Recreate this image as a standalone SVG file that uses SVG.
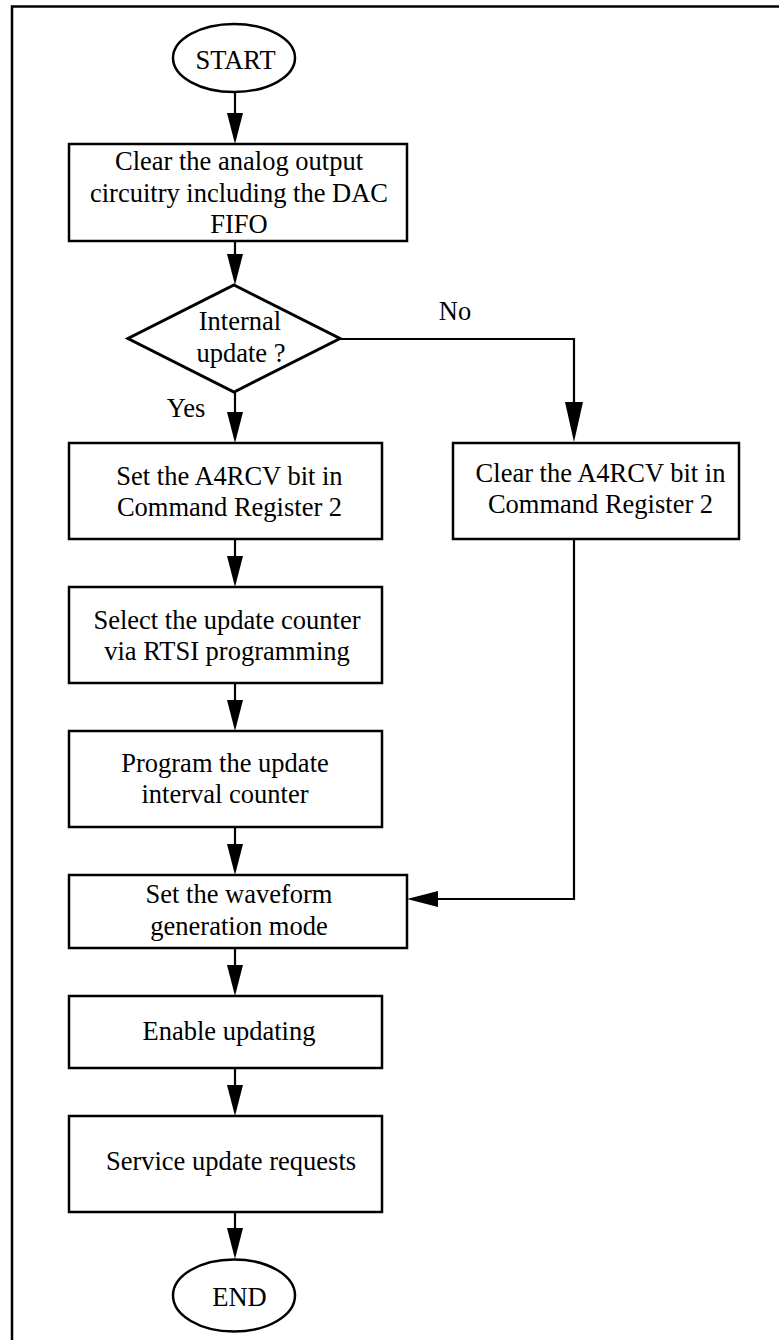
<svg xmlns="http://www.w3.org/2000/svg" width="779" height="1340" viewBox="0 0 779 1340">
<style>
  .shape { fill: #ffffff; stroke: #000000; stroke-width: 2.5; }
  .dia { fill: #ffffff; stroke: #000000; stroke-width: 3; stroke-linejoin: miter; }
  .conn { fill: none; stroke: #000000; stroke-width: 2.2; }
  .frame { fill: none; stroke: #000000; stroke-width: 2.5; }
  text { font-family: "Liberation Serif", "Times New Roman", serif; font-size: 26.5px; fill: #000000; text-anchor: middle; }
</style>
<defs>
  <marker id="arrow" viewBox="0 0 31 16" refX="21" refY="8" markerWidth="31" markerHeight="16" markerUnits="userSpaceOnUse" orient="auto">
    <path d="M0,0 L31,8 L0,16 z" fill="#000000"/>
  </marker>
  <marker id="arrowL" viewBox="0 0 40 18" refX="30" refY="9" markerWidth="40" markerHeight="18" markerUnits="userSpaceOnUse" orient="auto">
    <path d="M0,0 L40,9 L0,18 z" fill="#000000"/>
  </marker>
</defs>
<path class="frame" d="M12,1340 V6.5 H779"/>
<g id="connectors">
  <path class="conn" d="M235,92 V134" marker-end="url(#arrow)"/>
  <path class="conn" d="M235,241 V275" marker-end="url(#arrow)"/>
  <path class="conn" d="M235,392 V433" marker-end="url(#arrow)"/>
  <path class="conn" d="M340,339 H574 V432" marker-end="url(#arrowL)"/>
  <path class="conn" d="M235,539 V577" marker-end="url(#arrow)"/>
  <path class="conn" d="M235,683 V721" marker-end="url(#arrow)"/>
  <path class="conn" d="M235,827 V865" marker-end="url(#arrow)"/>
  <path class="conn" d="M574,539 V899 H417" marker-end="url(#arrow)"/>
  <path class="conn" d="M235,948 V986" marker-end="url(#arrow)"/>
  <path class="conn" d="M235,1068 V1106" marker-end="url(#arrow)"/>
  <path class="conn" d="M235,1212 V1249" marker-end="url(#arrow)"/>
  <text x="455" y="320">No</text>
  <text x="186" y="417">Yes</text>
</g>
<g id="start">
  <ellipse class="shape" cx="234" cy="58" rx="61" ry="34"/>
  <text x="235.5" y="69">START</text>
</g>
<g id="clear-analog">
  <rect class="shape" x="69" y="144" width="338" height="97"/>
  <text x="239" y="170">Clear the analog output</text>
  <text x="239" y="201.5">circuitry including the DAC</text>
  <text x="239" y="233">FIFO</text>
</g>
<g id="internal-update">
  <polygon class="dia" points="234,285 340,338.5 234,392 128,338.5"/>
  <text x="240" y="330">Internal</text>
  <text x="241" y="361.5">update ?</text>
</g>
<g id="set-a4rcv">
  <rect class="shape" x="69" y="443" width="313" height="96"/>
  <text x="229.5" y="485">Set the A4RCV bit in</text>
  <text x="229.5" y="516">Command Register 2</text>
</g>
<g id="clear-a4rcv">
  <rect class="shape" x="453" y="443" width="286" height="96"/>
  <text x="600.5" y="481.5">Clear the A4RCV bit in</text>
  <text x="600.5" y="513">Command Register 2</text>
</g>
<g id="select-counter">
  <rect class="shape" x="69" y="587" width="313" height="96"/>
  <text x="227" y="629">Select the update counter</text>
  <text x="227" y="660">via RTSI programming</text>
</g>
<g id="program-interval">
  <rect class="shape" x="69" y="731" width="313" height="96"/>
  <text x="225" y="772">Program the update</text>
  <text x="225" y="803">interval counter</text>
</g>
<g id="waveform-mode">
  <rect class="shape" x="69" y="875" width="338" height="73"/>
  <text x="239" y="903">Set the waveform</text>
  <text x="239" y="935">generation mode</text>
</g>
<g id="enable-updating">
  <rect class="shape" x="69" y="996" width="313" height="72"/>
  <text x="229" y="1040">Enable updating</text>
</g>
<g id="service-requests">
  <rect class="shape" x="69" y="1116" width="313" height="96"/>
  <text x="231" y="1170">Service update requests</text>
</g>
<g id="end">
  <ellipse class="shape" cx="234" cy="1295.5" rx="61" ry="36"/>
  <text x="239.5" y="1306">END</text>
</g>
</svg>
